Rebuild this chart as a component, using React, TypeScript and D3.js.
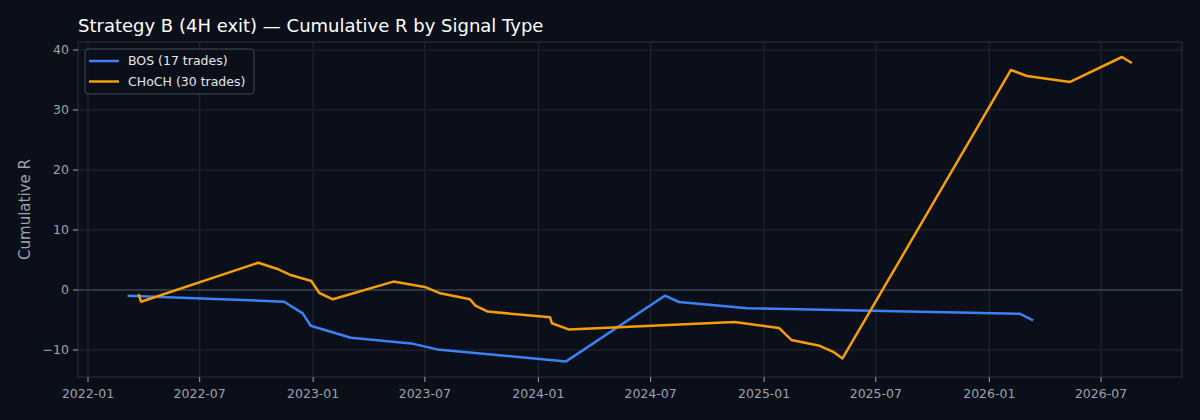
import React from "react";
import * as d3 from "d3";

const bosDates = [
  "2022-03-06", "2022-11-15", "2022-12-15", "2022-12-28", "2023-03-03", "2023-06-09",
  "2023-07-21", "2024-02-15", "2024-07-24", "2024-08-16", "2024-12-05", "2026-02-19", "2026-03-13",
];
const bosValues = [-0.95, -1.95, -3.9, -5.95, -7.95, -8.9, -9.9, -11.9, -0.95, -2.0, -3.05, -3.95, -5.05];

const chochDates = [
  "2022-03-24", "2022-03-28", "2022-10-04", "2022-11-03", "2022-11-24", "2022-12-29",
  "2023-01-11", "2023-02-02", "2023-05-11", "2023-07-03", "2023-07-26", "2023-09-12",
  "2023-09-21", "2023-10-11", "2024-01-20", "2024-01-23", "2024-02-20", "2024-11-14",
  "2025-01-25", "2025-02-14", "2025-04-01", "2025-04-23", "2025-05-08", "2026-02-05",
  "2026-03-03", "2026-05-12", "2026-08-04", "2026-08-20",
];
const chochValues = [
  -0.7, -1.95, 4.55, 3.55, 2.55, 1.5, -0.5, -1.55, 1.4, 0.45, -0.55, -1.55, -2.6, -3.6,
  -4.55, -5.55, -6.6, -5.33, -6.33, -8.33, -9.3, -10.3, -11.4, 36.67, 35.67, 34.67, 38.83, 37.83,
];

const xTickLabels = [
  "2022-01", "2022-07", "2023-01", "2023-07", "2024-01", "2024-07",
  "2025-01", "2025-07", "2026-01", "2026-07",
];
const yTickValues = [-10, 0, 10, 20, 30, 40];

const seriesNames = ["BOS (17 trades)", "CHoCH (30 trades)"];
const seriesColors = ["#3b82f6", "#f59e0b"];

const W = 1200;
const H = 420;
const left = 78;
const right = 1182;
const top = 42;
const bottom = 377;

const parse = d3.utcParse("%Y-%m-%d");
const parseMonth = d3.utcParse("%Y-%m");

export default function App() {
  const t0 = parse("2022-01-01") as Date;
  const t1 = parse("2026-07-01") as Date;
  const pxPerMs = (1101 - 88) / (t1.getTime() - t0.getTime());
  const d0 = new Date(t0.getTime() - (88 - left) / pxPerMs);
  const d1 = new Date(t1.getTime() + (right - 1101) / pxPerMs);

  const x = d3.scaleUtc().domain([d0, d1]).range([left, right]);
  const y = d3.scaleLinear().domain([-14.5, 41.33]).range([bottom, top]);

  const bos = bosDates.map((d, i) => ({ d: parse(d) as Date, v: bosValues[i] }));
  const choch = chochDates.map((d, i) => ({ d: parse(d) as Date, v: chochValues[i] }));

  const line = d3
    .line<{ d: Date; v: number }>()
    .x((p) => x(p.d))
    .y((p) => y(p.v));

  const xTicks = xTickLabels.map((l) => ({ l, d: parseMonth(l) as Date }));
  const tickColor = "#9ca3af";
  const gridColor = "#222836";
  const font = "DejaVu Sans, sans-serif";

  return (
    <svg
      width={W}
      height={H}
      style={{ position: "fixed", left: 0, top: 0, display: "block", background: "#0b0f19" }}
      fontFamily={font}
    >
      <rect x={0} y={0} width={W} height={H} fill="#0b0f19" />
      <text x={left} y={32} fill="#ffffff" fontSize={18}>
        Strategy B (4H exit) — Cumulative R by Signal Type
      </text>
      {/* grid */}
      {xTicks.map((t) => (
        <line key={t.l} x1={x(t.d)} x2={x(t.d)} y1={top} y2={bottom} stroke={gridColor} strokeWidth={1} />
      ))}
      {yTickValues.map((v) => (
        <line key={v} x1={left} x2={right} y1={y(v)} y2={y(v)} stroke={gridColor} strokeWidth={1} />
      ))}
      {/* zero line */}
      <line x1={left} x2={right} y1={y(0)} y2={y(0)} stroke="#4b5563" strokeWidth={1} />
      {/* frame */}
      <rect x={left} y={top} width={right - left} height={bottom - top} fill="none" stroke="#2a303c" strokeWidth={1} />
      {/* y ticks */}
      {yTickValues.map((v) => (
        <g key={v}>
          <line x1={left - 5} x2={left} y1={y(v)} y2={y(v)} stroke={tickColor} strokeWidth={1} />
          <text x={left - 9} y={y(v)} dy="0.35em" textAnchor="end" fill={tickColor} fontSize={12.5}>
            {v < 0 ? "\u2212" + Math.abs(v) : String(v)}
          </text>
        </g>
      ))}
      {/* x ticks */}
      {xTicks.map((t) => (
        <g key={t.l}>
          <line x1={x(t.d)} x2={x(t.d)} y1={bottom} y2={bottom + 5} stroke={tickColor} strokeWidth={1} />
          <text x={x(t.d)} y={bottom + 21} textAnchor="middle" fill={tickColor} fontSize={12.5}>
            {t.l}
          </text>
        </g>
      ))}
      <text
        transform={`translate(30,${(top + bottom) / 2}) rotate(-90)`}
        textAnchor="middle"
        fill={tickColor}
        fontSize={15}
      >
        Cumulative R
      </text>
      {/* lines */}
      <path d={line(bos) || ""} fill="none" stroke={seriesColors[0]} strokeWidth={2.5} strokeLinejoin="round" />
      <path d={line(choch) || ""} fill="none" stroke={seriesColors[1]} strokeWidth={2.5} strokeLinejoin="round" />
      {/* legend */}
      <rect x={85} y={49} width={169} height={45} rx={3} fill="#0b0f19" fillOpacity={0.8} stroke="#444a56" strokeWidth={1} />
      {seriesNames.map((n, i) => (
        <g key={n}>
          <line x1={89} x2={119} y1={61 + i * 20.5} y2={61 + i * 20.5} stroke={seriesColors[i]} strokeWidth={2.5} />
          <text x={128} y={61 + i * 20.5} dy="0.35em" fill="#e5e7eb" fontSize={12.5}>
            {n}
          </text>
        </g>
      ))}
    </svg>
  );
}
